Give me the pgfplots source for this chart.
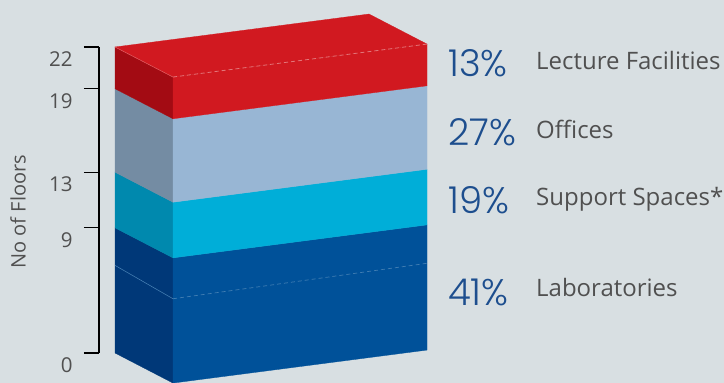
\documentclass[border=0pt]{standalone}
\usepackage{pgfplots}
\pgfplotsset{compat=1.18}
\usepackage{fontspec}
\setmainfont{Open Sans}
\newfontfamily\pctfont{Poppins Light}
\definecolor{bg}{HTML}{D8DFE2}
\definecolor{redF}{HTML}{D11920}
\definecolor{redS}{HTML}{A30B13}
\definecolor{offF}{HTML}{98B6D4}
\definecolor{offS}{HTML}{748CA3}
\definecolor{supF}{HTML}{00AED8}
\definecolor{supS}{HTML}{0089AE}
\definecolor{labF}{HTML}{005199}
\definecolor{labS}{HTML}{003878}
\definecolor{pctblue}{HTML}{1D4E8E}
\definecolor{txtgray}{HTML}{505050}
\begin{document}
\begin{tikzpicture}
\useasboundingbox (0,0) rectangle (724bp,383bp);
\fill[bg] (0,0) rectangle (724bp,383bp);
\begin{axis}[
  at={(99bp,30bp)}, anchor=south west,
  scale only axis, width=328bp, height=306bp,
  xmin=99, xmax=427, ymin=0, ymax=22,
  clip=false,
  axis x line=none,
  axis y line=left,
  axis line style={-, black, line width=1.3bp},
  ytick={0,9,13,19,22},
  tick align=outside,
  major tick length=15bp,
  tick style={black, line width=1.3bp},
  /pgf/number format/assume math mode=true,
  tick label style={font=\fontsize{20.5bp}{24bp}\selectfont, text=txtgray},
  yticklabel style={anchor=north east, xshift=-8bp, yshift=-1bp},
  ylabel={No of Floors},
  ylabel style={at={(axis description cs:-0.247,0.462)}, anchor=center, font=\fontsize{20bp}{24bp}\selectfont, text=txtgray},
  no markers,
]
% Laboratories
\addplot[fill=labS, draw=labS, line width=0.3bp] coordinates {(115,0) (173,-2.16) (173,6.84) (115,9)} -- cycle;
\addplot[fill=labF, draw=labF, line width=0.3bp] coordinates {(173,-2.16) (427,0.21) (427,9.21) (173,6.84)} -- cycle;
% Support spaces
\addplot[fill=supS, draw=supS, line width=0.3bp] coordinates {(115,9) (173,6.84) (173,10.84) (115,13)} -- cycle;
\addplot[fill=supF, draw=supF, line width=0.3bp] coordinates {(173,6.84) (427,9.21) (427,13.21) (173,10.84)} -- cycle;
% Offices
\addplot[fill=offS, draw=offS, line width=0.3bp] coordinates {(115,13) (173,10.84) (173,16.84) (115,19)} -- cycle;
\addplot[fill=offF, draw=offF, line width=0.3bp] coordinates {(173,10.84) (427,13.21) (427,19.21) (173,16.84)} -- cycle;
% Lecture facilities
\addplot[fill=redS, draw=redS, line width=0.3bp] coordinates {(115,19) (173,16.84) (173,19.84) (115,22)} -- cycle;
\addplot[fill=redF, draw=redF, line width=0.3bp] coordinates {(173,16.84) (427,19.21) (427,22.21) (173,19.84)} -- cycle;
\addplot[fill=redF, draw=redF, line width=0.3bp] coordinates {(115,22) (173,19.84) (427,22.21) (369,24.37)} -- cycle;
% subtle edges
\addplot[draw=labF!70!white, line width=0.5bp] coordinates {(115,6.3) (173,3.9)};
\addplot[draw=labF!75!white, line width=0.7bp, dash pattern=on 4bp off 3bp] coordinates {(173,3.9) (427,6.45)};
\addplot[draw=redF!70!white, line width=0.5bp] coordinates {(115,22) (173,19.84)};
\addplot[draw=redF!60!white, line width=0.8bp, dash pattern=on 4bp off 3bp] coordinates {(173,19.84) (427,22.21)};
% labels
\begin{scope}[every node/.style={inner sep=0pt, anchor=base west}]
\node[text=pctblue, font=\pctfont\fontsize{37bp}{40bp}\selectfont] at (axis cs:448,19.86) {13\%};
\node[text=pctblue, font=\pctfont\fontsize{37bp}{40bp}\selectfont] at (axis cs:448,14.95) {27\%};
\node[text=pctblue, font=\pctfont\fontsize{37bp}{40bp}\selectfont] at (axis cs:448,10.04) {19\%};
\node[text=pctblue, font=\pctfont\fontsize{37bp}{40bp}\selectfont] at (axis cs:448,3.45) {41\%};
\node[text=txtgray, font=\fontsize{24bp}{28bp}\selectfont] at (axis cs:536,20.35) {Lecture Facilities};
\node[text=txtgray, font=\fontsize{24bp}{28bp}\selectfont] at (axis cs:536,15.43) {Offices};
\node[text=txtgray, font=\fontsize{24bp}{28bp}\selectfont] at (axis cs:536,10.59) {Support Spaces*};
\node[text=txtgray, font=\fontsize{24bp}{28bp}\selectfont] at (axis cs:536,4.05) {Laboratories};
\end{scope}
\end{axis}
\end{tikzpicture}
\end{document}
